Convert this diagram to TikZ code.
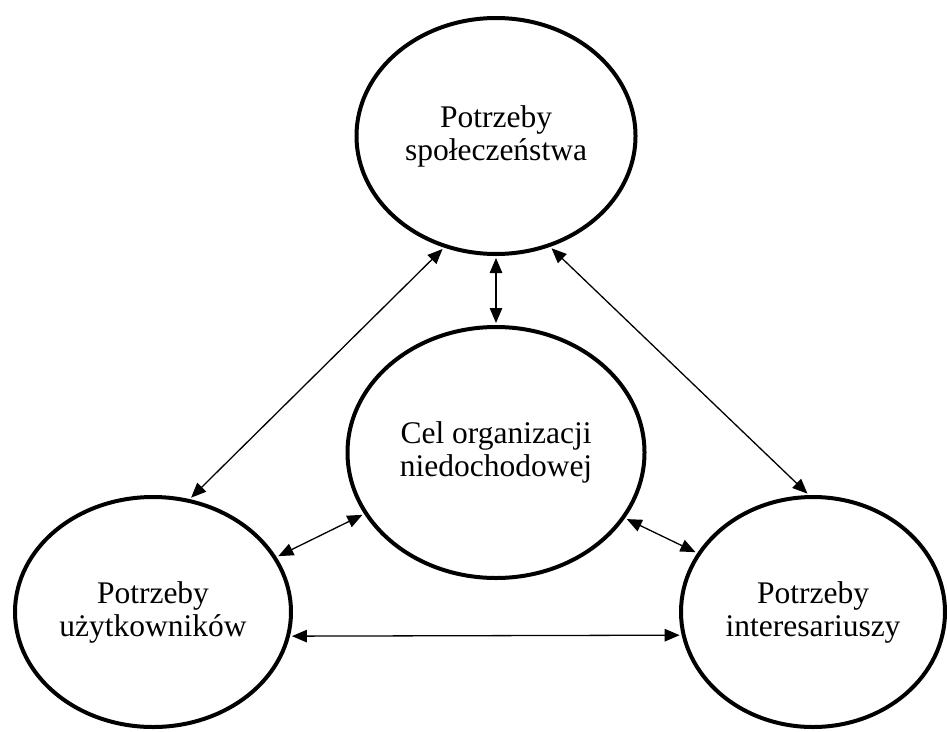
\documentclass[tikz,border=0pt]{standalone}
\usepackage{fontspec}
\setmainfont{Liberation Serif}
\usetikzlibrary{arrows.meta,shapes.geometric}

\tikzset{
  need/.style={draw, ellipse, line width=4pt, inner sep=0pt, align=center,
    font=\fontsize{31.5pt}{33pt}\selectfont},
  link/.style={{Triangle[length=15pt,width=12.5pt]}-{Triangle[length=15pt,width=12.5pt]},
    line width=1.3pt, shorten <=2pt, shorten >=2pt}
}

\begin{document}
\begin{tikzpicture}[x=1pt,y=-1pt]
  \useasboundingbox (0,0) rectangle (947,731);

  % the four ellipses
  \node[need, minimum width=279pt, minimum height=236pt] (soc) at (496,136)
    {Potrzeby\\społeczeństwa};
  \node[need, minimum width=297pt, minimum height=251pt] (goal) at (496,452.5)
    {Cel organizacji\\niedochodowej};
  \node[need, minimum width=276pt, minimum height=230pt] (users) at (153,612)
    {Potrzeby\\użytkowników};
  \node[need, minimum width=264pt, minimum height=230pt] (stake) at (813,612)
    {Potrzeby\\interesariuszy};

  % two-way relations
  \draw[link] (soc.245.3) -- (users.72.2);
  \draw[link] (soc.270) -- (goal.90);
  \draw[link] (soc.296.4) -- (stake.92.9);
  \draw[link] (users.24.1) -- (goal.205.3);
  \draw[link] (goal.333.2) -- (stake.153);
  \draw[link] (users.-10.1) -- (stake.190.6);
\end{tikzpicture}
\end{document}
